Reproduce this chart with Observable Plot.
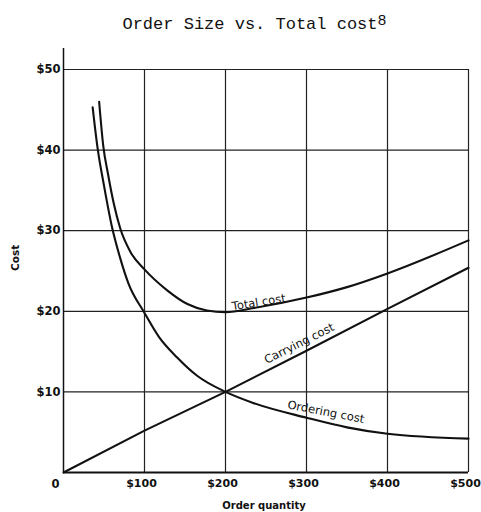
<!DOCTYPE html>
<html>
<head>
<meta charset="utf-8">
<script src="https://cdn.jsdelivr.net/npm/d3@7"></script>
<script src="https://cdn.jsdelivr.net/npm/@observablehq/plot@0.6"></script>
<style>
  html, body { margin: 0; padding: 0; background: #fff; }
  #title {
    width: 481px; height: 40px; box-sizing: border-box;
    padding-top: 16px; padding-left: 28px;
    text-align: center; font-family: "Liberation Mono", "DejaVu Sans Mono", monospace;
    font-size: 17px; line-height: 17px; color: #111; white-space: pre;
  }
  #title sup { font-size: 15px; line-height: 0; vertical-align: 4px; }
  #chart svg { display: block; }
</style>
</head>
<body>
<div id="title">Order Size vs. Total cost<sup>8</sup></div>
<div id="chart"></div>
<script>
// ---- data ----
const orderingQty  = [36, 42, 50, 60, 70, 80, 100, 118, 140, 165, 200, 235, 300, 350, 400, 500];
const orderingCost = [45.3, 40.3, 35.6, 30.4, 26.6, 23.5, 19.8, 16.8, 14.3, 12.0, 10.0, 8.6, 6.8, 5.6, 4.8, 4.2];

const carryingQty  = [0, 100, 200, 300, 400, 500];
const carryingCost = [0, 5.2, 10.0, 15.1, 20.3, 25.4];

const totalQty  = [44, 49, 55, 62, 70, 83, 100, 128, 153, 177, 200, 235, 300, 350, 400, 500];
const totalCost = [46.0, 40.6, 37.0, 33.4, 30.3, 27.3, 25.2, 22.6, 20.9, 20.1, 19.9, 20.4, 21.7, 23.0, 24.7, 28.8];

const xTicks = [100, 200, 300, 400, 500];
const yTicks = [10, 20, 30, 40, 50];
const seriesNames = ["Total cost", "Carrying cost", "Ordering cost"];

// tables built from the arrays
const ordering = orderingQty.map((q, i) => ({q, c: orderingCost[i]}));
const carrying = carryingQty.map((q, i) => ({q, c: carryingCost[i]}));
const total = totalQty.map((q, i) => ({q, c: totalCost[i]}));

const labelFont = "'DejaVu Sans', 'Liberation Sans', sans-serif";
const curveStyle = {x: "q", y: "c", stroke: "#111", strokeWidth: 2.1, curve: "monotone-x"};
const gridStyle = {stroke: "#222", strokeWidth: 1.2, strokeOpacity: 1};

const chart = Plot.plot({
  width: 481,
  height: 472,
  marginTop: 29,
  marginBottom: 40,
  marginLeft: 63,
  marginRight: 13,
  x: {domain: [0, 500], axis: null},
  y: {domain: [0, 50], axis: null},
  style: {background: "#fff", color: "#111"},
  marks: [
    // grid
    Plot.ruleY(yTicks, {y: d => d, x1: 0, x2: 500, ...gridStyle}),
    Plot.ruleX(xTicks, {x: d => d, y1: 0, y2: 50, ...gridStyle}),
    // axis lines
    Plot.ruleY([0], {y: d => d, x1: 0, x2: 500, stroke: "#111", strokeWidth: 2}),
    Plot.ruleX([0], {x: d => d, y1: 0, y2: 52.6, stroke: "#111", strokeWidth: 1.5}),
    // curves
    Plot.line(ordering, curveStyle),
    Plot.line(carrying, {...curveStyle, curve: "linear"}),
    Plot.line(total, curveStyle),
    // tick labels
    Plot.axisX(xTicks, {tickSize: 0, tickPadding: 7, dx: -3, tickFormat: d => "$" + d, label: null,
      fontSize: 11, fontWeight: "bold", fontFamily: labelFont}),
    Plot.axisY(yTicks, {anchor: "left", tickSize: 0, tickPadding: 3, tickFormat: d => "$" + d, label: null,
      fontSize: 11.5, fontWeight: "bold", fontFamily: labelFont}),
    Plot.text([0], {x: d => d, frameAnchor: "bottom", lineAnchor: "top", dy: 7, dx: -8, text: d => String(d),
      fontSize: 11.5, fontWeight: "bold", fontFamily: labelFont}),
    // axis titles
    Plot.text(["Order quantity"], {frameAnchor: "bottom", lineAnchor: "middle", dy: 33, dx: -2,
      fontSize: 10, fontWeight: "bold", fontFamily: labelFont}),
    Plot.text(["Cost"], {frameAnchor: "left", dx: -48, rotate: -90,
      fontSize: 10.5, fontWeight: "bold", fontFamily: labelFont}),
    // curve labels
    Plot.text([seriesNames[0]], {x: () => 241, y: () => 21.1, rotate: -9, fontSize: 11.5, fontFamily: labelFont}),
    Plot.text([seriesNames[1]], {x: () => 291, y: () => 16.0, rotate: -26.5, fontSize: 11.5, fontFamily: labelFont}),
    Plot.text([seriesNames[2]], {x: () => 324, y: () => 7.5, rotate: 11, fontSize: 11.5, fontFamily: labelFont})
  ]
});
document.getElementById("chart").appendChild(chart);
</script>
</body>
</html>
